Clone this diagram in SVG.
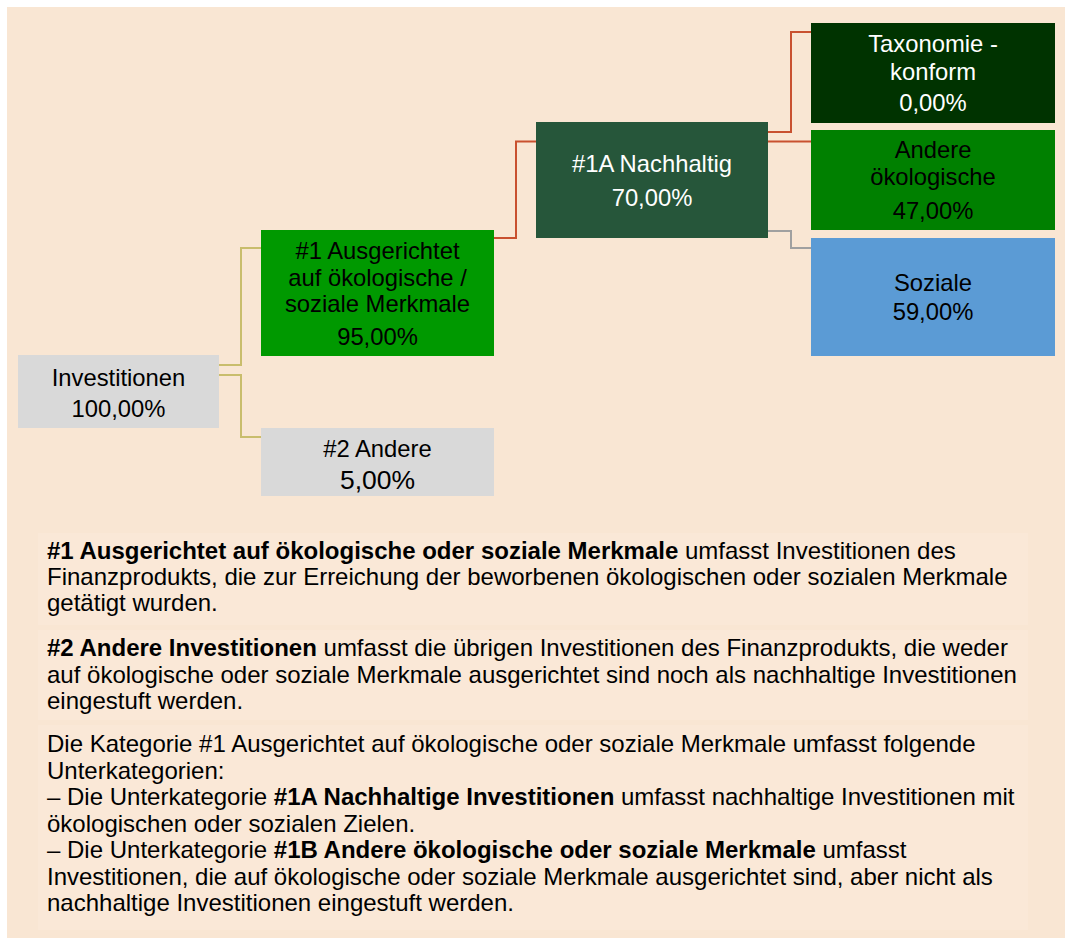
<svg xmlns="http://www.w3.org/2000/svg" width="1073" height="941" viewBox="0 0 1073 941">
<style>
  text { font-family: "Liberation Sans", Arial, sans-serif; }
  .n { font-size: 23.8px; text-anchor: middle; }
  .blk { fill: #000000; }
  .wht { fill: #FFFFFF; }
  .p { font-size: 24px; fill: #000000; }
  .b { font-weight: bold; }
  .c { fill: none; stroke-width: 2; }
  .khaki { stroke: #C9BD6C; }
  .red { stroke: #C9512F; }
  .gray { stroke: #A0A0A0; }
</style>
<rect x="0" y="0" width="1073" height="941" fill="#FFFFFF"/>
<rect x="7" y="7" width="1058" height="931" fill="#F9E6D3"/>
<rect x="38" y="533" width="990" height="92" fill="#FAE8D7"/>
<rect x="38" y="630" width="990" height="90" fill="#FAE8D7"/>
<rect x="38" y="725" width="990" height="205" fill="#FAE8D7"/>

<g id="connectors">
  <path class="c khaki" d="M218,365 H241 V248 H261"/>
  <path class="c khaki" d="M218,375 H241 V437 H261"/>
  <path class="c red" d="M494,238 H516 V141.5 H536"/>
  <path class="c red" d="M768,132 H791 V32 H811"/>
  <path class="c red" d="M768,141.5 H811"/>
  <path class="c gray" d="M768,231 H791 V248 H811"/>
</g>

<g id="node-investitionen">
  <rect x="18" y="355" width="201" height="73" fill="#D9D9D9"/>
  <text class="n blk" x="118.5" y="386">Investitionen</text>
  <text class="n blk" x="118.5" y="417">100,00%</text>
</g>

<g id="node-1">
  <rect x="261" y="230" width="233" height="126" fill="#009900"/>
  <text class="n blk" x="377.5" y="259">#1 Ausgerichtet</text>
  <text class="n blk" x="377.5" y="286">auf ökologische /</text>
  <text class="n blk" x="377.5" y="312">soziale Merkmale</text>
  <text class="n blk" x="377.5" y="345">95,00%</text>
</g>

<g id="node-2">
  <rect x="261" y="428" width="233" height="68" fill="#D9D9D9"/>
  <text class="n blk" x="377.5" y="457">#2 Andere</text>
  <text class="blk" x="377.5" y="488.5" font-size="26.5" text-anchor="middle">5,00%</text>
</g>

<g id="node-1a">
  <rect x="536" y="122" width="232" height="116" fill="#26563A"/>
  <text class="n wht" x="652" y="172">#1A Nachhaltig</text>
  <text class="n wht" x="652" y="206">70,00%</text>
</g>

<g id="node-taxonomie">
  <rect x="811" y="23" width="244" height="100" fill="#003300"/>
  <text class="n wht" x="933" y="52">Taxonomie -</text>
  <text class="n wht" x="933" y="79.5">konform</text>
  <text class="n wht" x="933" y="111">0,00%</text>
</g>

<g id="node-andere-oekologische">
  <rect x="811" y="130" width="244" height="100" fill="#008000"/>
  <text class="n blk" x="933" y="158">Andere</text>
  <text class="n blk" x="933" y="185">ökologische</text>
  <text class="n blk" x="933" y="218.5">47,00%</text>
</g>

<g id="node-soziale">
  <rect x="811" y="238" width="244" height="118" fill="#5B9BD5"/>
  <text class="n blk" x="933" y="291">Soziale</text>
  <text class="n blk" x="933" y="320">59,00%</text>
</g>

<g id="legend">
  <text class="p" x="47" y="559"><tspan class="b">#1 Ausgerichtet auf ökologische oder soziale Merkmale</tspan> umfasst Investitionen des</text>
  <text class="p" x="47" y="585">Finanzprodukts, die zur Erreichung der beworbenen ökologischen oder sozialen Merkmale</text>
  <text class="p" x="47" y="611">getätigt wurden.</text>

  <text class="p" x="47" y="656"><tspan class="b">#2 Andere Investitionen</tspan> umfasst die übrigen Investitionen des Finanzprodukts, die weder</text>
  <text class="p" x="47" y="682.5">auf ökologische oder soziale Merkmale ausgerichtet sind noch als nachhaltige Investitionen</text>
  <text class="p" x="47" y="709">eingestuft werden.</text>

  <text class="p" x="47" y="752">Die Kategorie #1 Ausgerichtet auf ökologische oder soziale Merkmale umfasst folgende</text>
  <text class="p" x="47" y="778.5">Unterkategorien:</text>
  <text class="p" x="47" y="805">– Die Unterkategorie <tspan class="b">#1A Nachhaltige Investitionen</tspan> umfasst nachhaltige Investitionen mit</text>
  <text class="p" x="47" y="831.5">ökologischen oder sozialen Zielen.</text>
  <text class="p" x="47" y="858">– Die Unterkategorie <tspan class="b">#1B Andere ökologische oder soziale Merkmale</tspan> umfasst</text>
  <text class="p" x="47" y="884.5">Investitionen, die auf ökologische oder soziale Merkmale ausgerichtet sind, aber nicht als</text>
  <text class="p" x="47" y="911">nachhaltige Investitionen eingestuft werden.</text>
</g>
</svg>
